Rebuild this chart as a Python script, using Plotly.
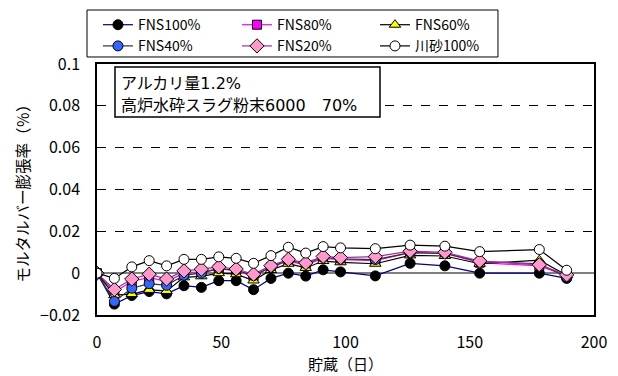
import plotly.graph_objects as go

days = [0, 7, 14, 21, 28, 35, 42, 49, 56, 63, 70, 77, 84, 91, 98, 112, 126, 140, 154, 178, 189]

fns100 = [0, -0.0148, -0.0107, -0.0088, -0.0099, -0.0060, -0.0068, -0.0036, -0.0036, -0.0079, -0.0025,
          0.0000, -0.0014, 0.0016, 0.0006, -0.0013, 0.0047, 0.0035, 0.0000, 0.0000, -0.0025]
fns80 = [0, -0.0090, -0.0040, -0.0020, -0.0040, 0.0000, 0.0008, 0.0020, 0.0012, -0.0015, 0.0028,
         0.0058, 0.0040, 0.0070, 0.0065, 0.0060, 0.0098, 0.0095, 0.0050, 0.0035, -0.0012]
fns60 = [0, -0.0105, -0.0100, -0.0080, -0.0085, -0.0020, -0.0015, 0.0000, -0.0005, -0.0035, 0.0015,
         0.0045, 0.0025, 0.0058, 0.0052, 0.0045, 0.0085, 0.0082, 0.0045, 0.0062, -0.0010]
fns40 = [0, -0.0135, -0.0072, -0.0050, -0.0058, -0.0010, 0.0000, 0.0022, 0.0015, -0.0012, 0.0030,
         0.0062, 0.0045, 0.0075, 0.0068, 0.0065, 0.0098, 0.0095, 0.0055, 0.0045, -0.0018]
fns20 = [0, -0.0078, -0.0028, -0.0005, -0.0028, 0.0011, 0.0019, 0.0030, 0.0020, -0.0005, 0.0036,
         0.0066, 0.0049, 0.0080, 0.0074, 0.0079, 0.0105, 0.0100, 0.0058, 0.0040, -0.0008]
kawasuna = [0, -0.0025, 0.0030, 0.0060, 0.0035, 0.0066, 0.0066, 0.0078, 0.0071, 0.0047, 0.0084,
            0.0124, 0.0096, 0.0127, 0.0121, 0.0117, 0.0134, 0.0129, 0.0103, 0.0113, 0.0014]

series_names = ["FNS100%", "FNS80%", "FNS60%", "FNS40%", "FNS20%", "川砂100%"]
series_vals = [fns100, fns80, fns60, fns40, fns20, kawasuna]
line_colors = ["#000080", "#FF00FF", "#000000", "#333333", "#993399", "#000000"]
marker_fill = ["#000000", "#FF00FF", "#FFFF00", "#3366FF", "#FF99CC", "#FFFFFF"]
marker_sym = ["circle", "square", "triangle-up", "circle", "diamond", "circle"]
marker_size = [10, 9, 10, 10, 11, 10]
legend_ids = ["legend", "legend2", "legend3", "legend", "legend2", "legend3"]

note_lines = ["アルカリ量1.2%", "高炉水砕スラグ粉末6000　70%"]
x_title = "貯蔵（日）"
y_title = "モルタルバー膨張率（％）"

FONT = "Noto Sans CJK JP"
NOTE_FONT = "DejaVu Sans, Noto Sans CJK JP"

fig = go.Figure()
for name, vals, lc, mf, ms, sz, lg in zip(series_names, series_vals, line_colors, marker_fill,
                                          marker_sym, marker_size, legend_ids):
    fig.add_trace(go.Scatter(
        x=days, y=vals, name=name, mode="lines+markers", legend=lg,
        line=dict(color=lc, width=1.2),
        marker=dict(symbol=ms, size=sz, color=mf, line=dict(color="#000000", width=1)),
    ))

leg_common = dict(orientation="v", yanchor="top", xanchor="left", y=0.997,
                  xref="container", yref="container",
                  bgcolor="rgba(0,0,0,0)", borderwidth=0,
                  font=dict(family=FONT, size=14), itemwidth=30, tracegroupgap=0)

fig.update_layout(
    width=610, height=368,
    margin=dict(l=89, r=24, t=56, b=61, autoexpand=False),
    paper_bgcolor="white", plot_bgcolor="white",
    font=dict(family=FONT, size=14, color="black"),
    showlegend=True,
    legend=dict(x=0.1475, **leg_common),
    legend2=dict(x=0.3754, **leg_common),
    legend3=dict(x=0.6016, **leg_common),
    shapes=[
        dict(type="rect", xref="paper", yref="paper",
             x0=-0.0201, x1=0.8068, y0=1.0279, y1=1.2151,
             line=dict(color="black", width=1), fillcolor="rgba(0,0,0,0)", layer="above"),
        dict(type="rect", xref="paper", yref="paper",
             x0=0.0362, x1=0.5694, y0=0.7888, y1=0.988,
             line=dict(color="black", width=1.5), fillcolor="white", layer="above"),
    ],
    annotations=[
        dict(xref="paper", yref="paper", x=0.0443, y=0.9243, xanchor="left", yanchor="middle",
             text=note_lines[0], showarrow=False, align="left",
             font=dict(family=NOTE_FONT, size=16, color="black")),
        dict(xref="paper", yref="paper", x=0.0443, y=0.8327, xanchor="left", yanchor="middle",
             text=note_lines[1], showarrow=False, align="left",
             font=dict(family=NOTE_FONT, size=16, color="black")),
        dict(xref="paper", yref="paper", x=-0.151, y=0.5, xanchor="center", yanchor="middle",
             text=y_title, textangle=-90, showarrow=False,
             font=dict(family=FONT, size=15.5, color="black")),
    ],
)

fig.update_xaxes(
    range=[0, 200], dtick=50, tick0=0,
    showgrid=False, zeroline=False, automargin=False,
    showline=True, linecolor="black", linewidth=1.5, mirror=True,
    ticks="", tickfont=dict(size=16), ticklabelstandoff=12,
    title=dict(text=x_title, font=dict(size=15), standoff=2),
)
fig.update_yaxes(
    range=[-0.02, 0.1], dtick=0.02, tick0=0,
    showgrid=True, gridcolor="black", griddash="dash", gridwidth=1,
    zeroline=True, zerolinecolor="#808080", zerolinewidth=2, automargin=False,
    showline=True, linecolor="black", linewidth=1.5, mirror=True,
    ticks="", tickfont=dict(size=16), ticklabelstandoff=12,
)

fig.write_html("out.html")
